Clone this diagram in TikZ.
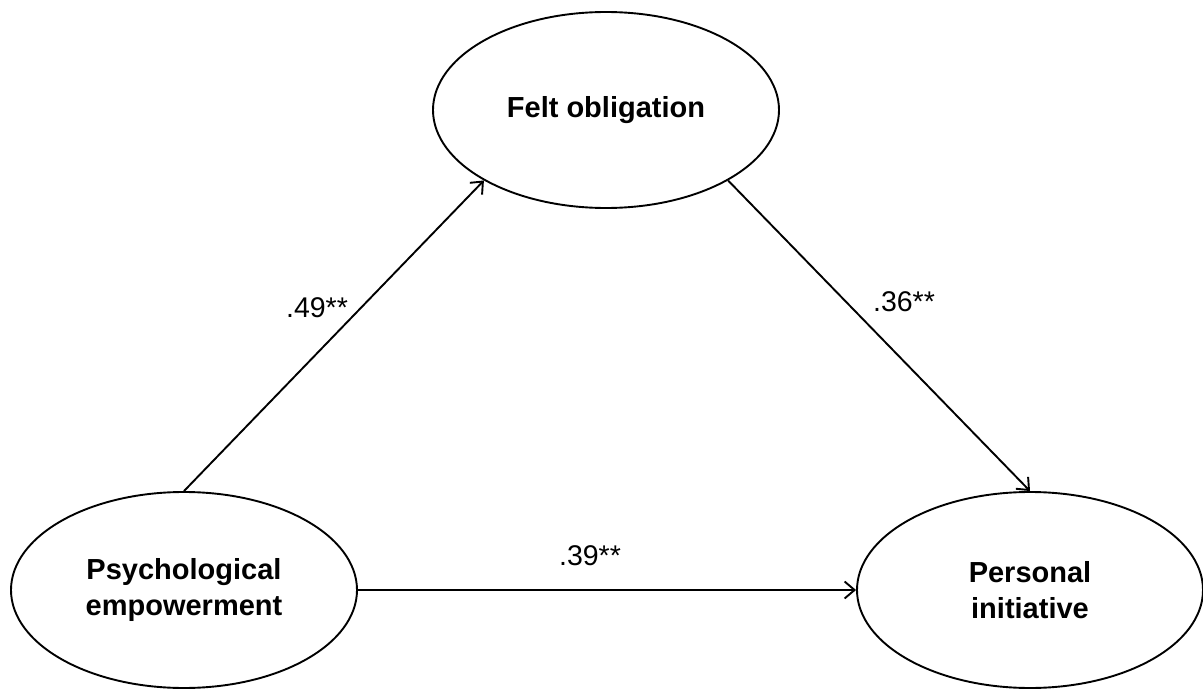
\documentclass[tikz,border=0pt]{standalone}
\usepackage{fontspec}
\setmainfont{Liberation Sans}
\usetikzlibrary{shapes.geometric,arrows.meta}
\begin{document}
\begin{tikzpicture}[x=1pt,y=-1pt,
  latent/.style={draw=black, line width=1.9pt, ellipse, minimum width=346pt, minimum height=196pt, inner sep=0pt, align=center,
    font=\fontsize{29}{36}\selectfont\bfseries},
  path/.style={draw=black, line width=1.9pt, -{Straight Barb[length=10pt,width=17pt,line width=1.9pt]}},
  coef/.style={font=\fontsize{28.5}{34}\selectfont, inner sep=0pt}]
\useasboundingbox (0,0) rectangle (1203,690);
\node[latent] (fo) at (606,110) {Felt obligation};
\node[latent] (pe) at (184,590) {Psychological\\empowerment};
\node[latent] (pi) at (1030,590) {Personal\\initiative};
\draw[path] (pe.north) -- (fo.210);
\draw[path] (fo.330) -- (pi.north);
\draw[path] (pe.east) -- (pi.west);
\node[coef] (b1) at (317,308) {.49**};
\node[coef] (b2) at (904,302) {.36**};
\node[coef] (b3) at (590,556) {.39**};
\end{tikzpicture}
\end{document}
